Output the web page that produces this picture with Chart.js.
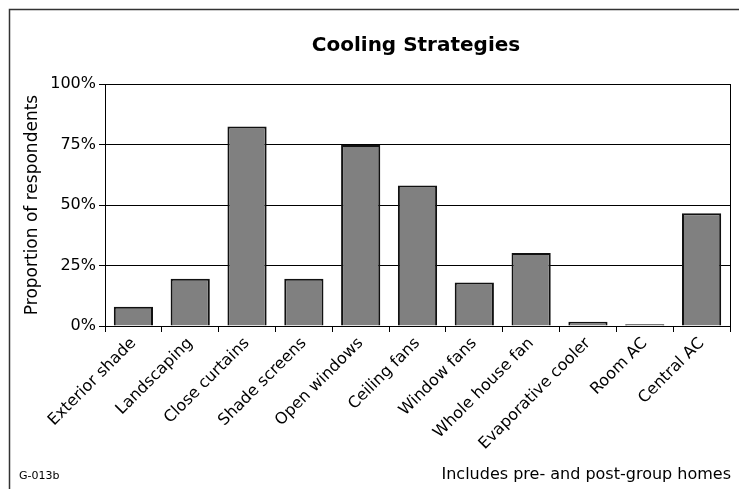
<!DOCTYPE html>
<html>
<head>
<meta charset="utf-8">
<script src="https://cdn.jsdelivr.net/npm/chart.js@4/dist/chart.umd.min.js"></script>
<style>
  html, body { margin: 0; padding: 0; background: #fff; }
  #wrap { width: 739px; height: 489px; }
</style>
</head>
<body>
<div id="wrap"><canvas id="chart" width="739" height="489"></canvas></div>
<script>
// ─── Data ────────────────────────────────────────────────────────────────────
const CATEGORIES = [
    "Exterior shade", "Landscaping", "Close curtains", "Shade screens",
    "Open windows", "Ceiling fans", "Window fans", "Whole house fan",
    "Evaporative cooler", "Room AC", "Central AC",
];
const SHARE_PCT = [8, 19.5, 82.4, 19.5, 74.8, 58.1, 18, 30.2, 1.8, 0.7, 46.6];
const Y_TICKS   = [0, 25, 50, 75, 100];

const TITLE    = "Cooling Strategies";
const Y_TITLE  = "Proportion of respondents";
const CODE     = "G-013b";
const FOOTNOTE = "Includes pre- and post-group homes";

const FONT = "'DejaVu Sans', sans-serif";

// frame, title, right border and footnotes
const decor = {
    id: "decor",
    afterDraw(chart) {
        const { ctx, chartArea: a } = chart;
        ctx.save();
        ctx.strokeStyle = "#333";
        ctx.lineWidth = 1.5;
        ctx.beginPath();
        ctx.moveTo(9.5, 489);
        ctx.lineTo(9.5, 9.5);
        ctx.lineTo(739, 9.5);
        ctx.stroke();

        ctx.strokeStyle = "#000";
        ctx.lineWidth = 1;
        ctx.beginPath();
        ctx.moveTo(Math.round(a.right) + 0.5, a.top);
        ctx.lineTo(Math.round(a.right) + 0.5, a.bottom);
        ctx.stroke();

        ctx.fillStyle = "#000";
        ctx.textBaseline = "middle";
        ctx.textAlign = "center";
        ctx.font = "bold 20px " + FONT;
        ctx.fillText(TITLE, 416, 46);

        ctx.textBaseline = "alphabetic";
        ctx.textAlign = "left";
        ctx.font = "11px " + FONT;
        ctx.fillText(CODE, 19, 479);
        ctx.textAlign = "right";
        ctx.font = "16px " + FONT;
        ctx.fillText(FOOTNOTE, 731, 479);
        ctx.restore();
    },
};

new Chart(document.getElementById("chart"), {
    type: "bar",
    data: {
        labels: CATEGORIES,
        datasets: [{
            data: SHARE_PCT,
            backgroundColor: "#808080",
            borderColor: "#111",
            borderWidth: 2,
            barPercentage: 0.69,
            categoryPercentage: 1,
        }],
    },
    options: {
        responsive: false,
        animation: false,
        layout: { padding: { left: 0, top: 84, right: 9, bottom: 0 } },
        plugins: {
            legend: { display: false },
            tooltip: { enabled: false },
        },
        scales: {
            x: {
                afterFit: s => { s.height = 163; },
                grid: { offset: true, drawOnChartArea: false, color: "#000", tickLength: 6 },
                border: { color: "#000", width: 1 },
                ticks: {
                    color: "#000",
                    font: { family: FONT, size: 16 },
                    maxRotation: 45, minRotation: 45,
                    padding: 2,
                    autoSkip: false,
                },
            },
            y: {
                min: 0, max: 100,
                afterFit: s => { s.width = 105; },
                afterBuildTicks: s => { s.ticks = Y_TICKS.map(v => ({ value: v })); },
                grid: { color: "#000", lineWidth: 1, tickLength: 6 },
                border: { color: "#000", width: 1 },
                ticks: {
                    color: "#000",
                    font: { family: FONT, size: 16 },
                    padding: 3,
                    callback: v => v + "%",
                },
                title: {
                    display: true,
                    text: Y_TITLE,
                    color: "#000",
                    font: { family: FONT, size: 17 },
                    padding: { top: 22, bottom: 0 },
                },
            },
        },
    },
    plugins: [decor],
});
</script>
</body>
</html>
